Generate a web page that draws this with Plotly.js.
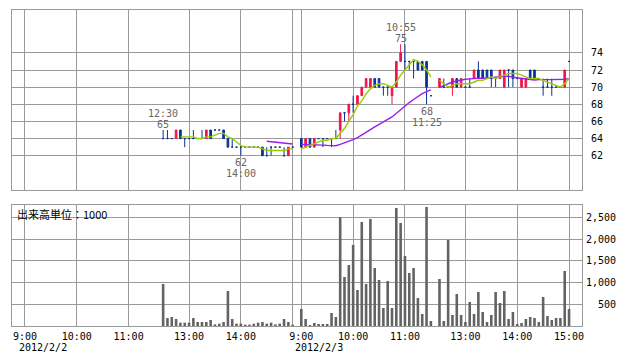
<!DOCTYPE html>
<html><head><meta charset="utf-8">
<script src="https://cdn.plot.ly/plotly-3.0.1.min.js"></script>
<style>html,body{margin:0;padding:0;background:#fff}#chart{width:638px;height:362px}</style>
</head><body><div id="chart"></div>
<script>
// ---- data ----
const tradingDays = ['2012/2/2', '2012/2/3'];
const sessionDay = [0, 1, 1];
const sessionStart = ['12:30', '9:00', '12:30'];

const openPrices = [
  [64,64,64,64,65,64,64,64,64,64, 64,65,65,65,65,64,63,63,63,63, 63,63,63,63,62,63,63,63,62,62, 63],
  [64,63,64,63,64,64,64,64,64,65, 67,67,68,68,69,70,70,71,71,70, 70,69,70,73,73,73,73,73,73,73, 69],
  [70,70,70,70,71,70,70,70,71,72, 72,72,72,71,71,70,72,72,71,70, 70,72,72,71,70,70,70,70,70,70, 73]
];
const highPrices = [
  [65,65,64,65,65,64,64,65,64,65, 65,65,65,65,65,64,64,63,63,63, 63,63,63,63,63,63,63,63,63,63, 63],
  [64,64,64,64,64,64,64,64,65,67, 67,68,69,69,70,71,71,71,71,70, 70,70,73,75,75,73,73,73,73,73, 69],
  [71,71,70,71,71,71,70,71,72,73, 72,72,72,71,72,72,72,72,71,71, 71,72,72,71,71,71,71,70,70,72, 73]
];
const lowPrices = [
  [64,64,64,64,64,63,64,64,64,64, 64,64,65,65,64,63,63,63,62,63, 63,63,63,62,62,62,63,63,62,62, 63],
  [63,63,63,63,64,63,64,63,64,64, 66,66,67,68,69,70,70,70,70,69, 69,68,70,73,72,72,71,72,72,68, 69],
  [70,70,70,69,70,70,70,70,71,71, 71,71,70,70,71,70,70,70,71,70, 70,71,71,71,69,70,69,70,70,70, 73]
];
const closePrices = [
  [64,64,64,65,64,64,64,64,64,64, 65,64,65,65,64,63,63,63,63,63, 63,63,63,62,62,63,63,63,62,63, 63],
  [63,64,63,64,64,64,64,64,64,67, 67,68,68,69,70,71,71,70,70,70, 70,70,73,74,73,73,73,72,72,70, 69],
  [71,70,70,71,70,71,70,70,72,71, 71,71,71,71,72,72,72,71,71,71, 71,71,71,71,70,70,70,70,70,72, 73]
];
const volumes = [
  [970,184,207,161,77,77,77,184,92,92, 92,138,38,54,92,806,161,54,54,31, 31,54,77,92,54,77,38,54,161,92, 31],
  [392,161,23,69,46,46,46,300,208,2507, 1130,1407,1869,830,2399,969,2468,1338,1061,415, 1038,415,2722,2376,1615,1223,1338,646,277,2745, 115],
  [1084,115,1984,254,738,254,92,554,277,784, 323,92,254,784,531,807,161,323,46,69, 161,208,185,92,669,231,138,185,185,1269, 392]
];
const tickTimes = ['9:00', '10:00', '11:00', '13:00', '14:00', '15:00'];
const priceTicks = [62, 64, 66, 68, 70, 72, 74];
const volumeTicks = [500, 1000, 1500, 2000, 2500];
const volumeTickText = ['\u00a0\u00a0500', '1,000', '1,500', '2,000', '2,500'];
const markSession = [0, 0, 1, 1];
const markIndex = [0, 18, 23, 29];
const markKind = ['high', 'low', 'high', 'low'];
const volumeUnitLabel = '出来高単位：1000';
const shortMA = 5, longMA = 25;

// ---- helpers ----
function toMin(t) { const p = t.split(':').map(Number); return p[0] * 60 + p[1]; }
function fmt(m) { return Math.floor(m / 60) + ':' + String(m % 60).padStart(2, '0'); }
function slotOf(day, t) {
  const m = toMin(t);
  const s = m <= 690 ? (m - 540) / 5 : (m - 750) / 5 + 32;
  return day * 64 + s;
}

// flatten bars
const bars = [];
for (let k = 0; k < sessionStart.length; k++) {
  const st = toMin(sessionStart[k]);
  for (let i = 0; i < openPrices[k].length; i++) {
    const t = fmt(st + 5 * i);
    bars.push({session: k, x: slotOf(sessionDay[k], t), time: t,
      o: openPrices[k][i], h: highPrices[k][i], l: lowPrices[k][i], c: closePrices[k][i], v: volumes[k][i]});
  }
}
const closes = bars.map(b => b.c);
function movingAvg(n) {
  return closes.map((v, i) => {
    if (i < n - 1) return null;
    let s = 0; for (let j = i - n + 1; j <= i; j++) s += closes[j];
    return s / n;
  });
}
function lineWithGaps(vals) {
  const xs = [], ys = [];
  bars.forEach((b, i) => {
    if (i > 0 && b.session !== bars[i - 1].session) { xs.push(null); ys.push(null); }
    xs.push(b.x); ys.push(vals[i]);
  });
  return {xs, ys};
}

const RED = '#f0144a', BLUE = '#0a3296';
function candleTrace(sel, color) {
  const bs = bars.filter(sel);
  return {type: 'candlestick', xaxis: 'x', yaxis: 'y',
    x: bs.map(b => b.x), open: bs.map(b => b.o), high: bs.map(b => b.h), low: bs.map(b => b.l), close: bs.map(b => b.c),
    increasing: {line: {color: color, width: 1}, fillcolor: color},
    decreasing: {line: {color: color, width: 1}, fillcolor: color},
    whiskerwidth: 0, hoverinfo: 'skip'};
}
const ma5 = lineWithGaps(movingAvg(shortMA));
const ma25 = lineWithGaps(movingAvg(longMA));

const traces = [
  candleTrace(b => b.c <= b.o, BLUE),
  candleTrace(b => b.c > b.o, RED),
  {type: 'scatter', mode: 'lines', x: ma25.xs, y: ma25.ys, xaxis: 'x', yaxis: 'y',
   line: {color: '#9a1cf0', width: 1.4}, connectgaps: false, hoverinfo: 'skip'},
  {type: 'scatter', mode: 'lines', x: ma5.xs, y: ma5.ys, xaxis: 'x', yaxis: 'y',
   line: {color: '#99cc00', width: 1.4}, connectgaps: false, hoverinfo: 'skip'},
  {type: 'bar', x: bars.map(b => b.x), y: bars.map(b => b.v), xaxis: 'x2', yaxis: 'y2',
   width: 0.6, marker: {color: '#636363', line: {width: 0}}, hoverinfo: 'skip'}
];

// ticks
const tickVals = [], tickText = [];
tradingDays.forEach((d, di) => tickTimes.forEach(t => {
  tickVals.push(slotOf(di, t));
  tickText.push(di < tradingDays.length - 1 && t === '15:00' ? '' : t);
}));

const GRID = '#9a9a9a';
const FONT = 'DejaVu Sans Mono, monospace';
const annotations = [];
markIndex.forEach((idx, j) => {
  const k = markSession[j];
  const b = bars.filter(bb => bb.session === k)[idx];
  const isHigh = markKind[j] === 'high';
  const val = isHigh ? b.h : b.l;
  const f = {family: FONT, size: 10, color: '#666'};
  annotations.push({xref: 'x', yref: 'y', x: b.x, y: val, text: String(val), showarrow: false,
    font: f, yanchor: 'middle', yshift: isHigh ? 6 : -7});
  annotations.push({xref: 'x', yref: 'y', x: b.x, y: val, text: b.time, showarrow: false,
    font: f, yanchor: 'middle', yshift: isHigh ? 17 : -18});
});
tradingDays.forEach((d, di) => {
  annotations.push({xref: 'x2', yref: 'paper', x: slotOf(di, '9:00'), y: 0, text: d, showarrow: false,
    xanchor: 'left', yanchor: 'middle', xshift: -8, yshift: -21, font: {family: FONT, size: 10, color: '#000'}});
});
annotations.push({xref: 'paper', yref: 'paper', x: 0, y: 0.3544, text: volumeUnitLabel, showarrow: false,
  xanchor: 'left', yanchor: 'middle', xshift: 3, font: {family: 'Noto Sans CJK JP', size: 11, color: '#000'}});

const axBase = {showgrid: true, gridcolor: GRID, gridwidth: 1, showline: true, linecolor: GRID, linewidth: 1,
  mirror: true, zeroline: false, ticks: '', fixedrange: true};
const layout = {
  width: 638, height: 362,
  margin: {l: 12, r: 56, t: 10, b: 36, pad: 0},
  paper_bgcolor: '#fff', plot_bgcolor: '#fff', showlegend: false,
  font: {family: FONT, size: 10, color: '#000'},
  boxgap: 0.45,
  xaxis: Object.assign({}, axBase, {domain: [0, 1], range: [-3, 129], anchor: 'y', tickmode: 'array',
    tickvals: tickVals, showticklabels: false, rangeslider: {visible: false}}),
  yaxis: Object.assign({}, axBase, {domain: [0.4304, 1], range: [58, 79], anchor: 'x', side: 'right',
    tickmode: 'array', tickvals: priceTicks, ticklabelstandoff: 6}),
  xaxis2: Object.assign({}, axBase, {domain: [0, 1], range: [-3, 129], anchor: 'y2', tickmode: 'array',
    tickvals: tickVals, ticktext: tickText, ticklabelstandoff: 1}),
  yaxis2: Object.assign({}, axBase, {domain: [0, 0.3829], range: [0, 2790], anchor: 'x2', side: 'right',
    tickmode: 'array', tickvals: volumeTicks, ticktext: volumeTickText, ticklabelstandoff: 1}),
  annotations: annotations
};
Plotly.newPlot('chart', traces, layout, {staticPlot: true, displayModeBar: false});
</script></body></html>
